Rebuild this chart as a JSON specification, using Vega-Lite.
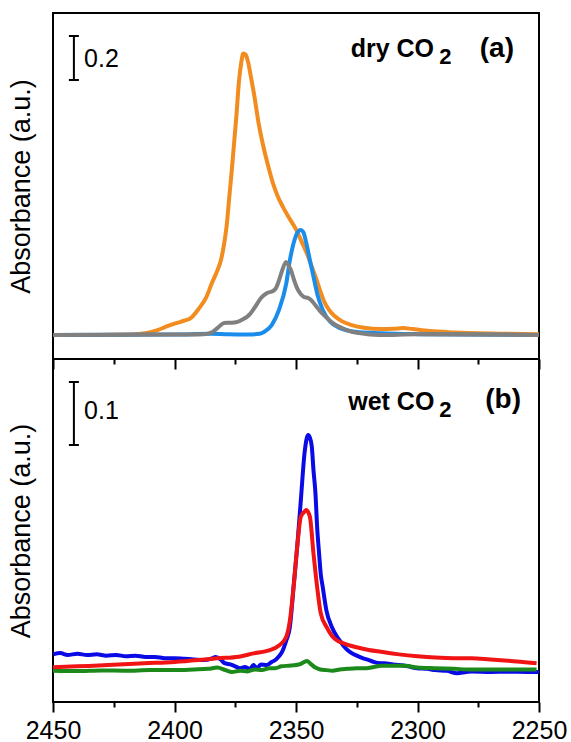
{
  "$schema": "https://vega.github.io/schema/vega-lite/v6.json",
  "padding": {"left": 6, "top": 12, "right": 3, "bottom": 3},
  "background": "white",
  "config": {
    "view": {"stroke": "black", "strokeWidth": 2},
    "font": "Liberation Sans"
  },
  "spacing": 0,
  "bounds": "flush",
  "resolve": {"scale": {"x": "independent", "y": "independent", "color": "independent"}},
  "datasets": {
    "dry": [
      {"s": "dry-1", "wn": 2450, "a": 0}, {"s": "dry-1", "wn": 2430, "a": 0}, {"s": "dry-1", "wn": 2418, "a": 0.002}, {"s": "dry-1", "wn": 2412, "a": 0.008}, {"s": "dry-1", "wn": 2407, "a": 0.022}, {"s": "dry-1", "wn": 2403, "a": 0.04}, {"s": "dry-1", "wn": 2399, "a": 0.055}, {"s": "dry-1", "wn": 2396, "a": 0.065}, {"s": "dry-1", "wn": 2393, "a": 0.08}, {"s": "dry-1", "wn": 2390, "a": 0.12}, {"s": "dry-1", "wn": 2387, "a": 0.17}, {"s": "dry-1", "wn": 2384.6, "a": 0.236}, {"s": "dry-1", "wn": 2382.5, "a": 0.29}, {"s": "dry-1", "wn": 2380.9, "a": 0.34}, {"s": "dry-1", "wn": 2379.5, "a": 0.42}, {"s": "dry-1", "wn": 2378.5, "a": 0.5}, {"s": "dry-1", "wn": 2377.6, "a": 0.61}, {"s": "dry-1", "wn": 2376.5, "a": 0.74}, {"s": "dry-1", "wn": 2375.5, "a": 0.87}, {"s": "dry-1", "wn": 2374.5, "a": 1.0}, {"s": "dry-1", "wn": 2373.5, "a": 1.15}, {"s": "dry-1", "wn": 2372.5, "a": 1.24}, {"s": "dry-1", "wn": 2371.7, "a": 1.28}, {"s": "dry-1", "wn": 2370.8, "a": 1.275}, {"s": "dry-1", "wn": 2369.7, "a": 1.24}, {"s": "dry-1", "wn": 2368.5, "a": 1.17}, {"s": "dry-1", "wn": 2367.2, "a": 1.09}, {"s": "dry-1", "wn": 2365.5, "a": 0.97}, {"s": "dry-1", "wn": 2363.5, "a": 0.86}, {"s": "dry-1", "wn": 2361.5, "a": 0.77}, {"s": "dry-1", "wn": 2359.5, "a": 0.69}, {"s": "dry-1", "wn": 2357.5, "a": 0.63}, {"s": "dry-1", "wn": 2355.5, "a": 0.585}, {"s": "dry-1", "wn": 2353, "a": 0.535}, {"s": "dry-1", "wn": 2350, "a": 0.48}, {"s": "dry-1", "wn": 2347.5, "a": 0.42}, {"s": "dry-1", "wn": 2345.5, "a": 0.37}, {"s": "dry-1", "wn": 2343.5, "a": 0.31}, {"s": "dry-1", "wn": 2341.8, "a": 0.26}, {"s": "dry-1", "wn": 2340, "a": 0.2}, {"s": "dry-1", "wn": 2338.5, "a": 0.155}, {"s": "dry-1", "wn": 2336.5, "a": 0.115}, {"s": "dry-1", "wn": 2334, "a": 0.085}, {"s": "dry-1", "wn": 2331, "a": 0.062}, {"s": "dry-1", "wn": 2327, "a": 0.045}, {"s": "dry-1", "wn": 2322, "a": 0.033}, {"s": "dry-1", "wn": 2315, "a": 0.027}, {"s": "dry-1", "wn": 2310, "a": 0.028}, {"s": "dry-1", "wn": 2306, "a": 0.032}, {"s": "dry-1", "wn": 2302, "a": 0.027}, {"s": "dry-1", "wn": 2295, "a": 0.018}, {"s": "dry-1", "wn": 2285, "a": 0.012}, {"s": "dry-1", "wn": 2270, "a": 0.007}, {"s": "dry-1", "wn": 2250, "a": 0.004},
      {"s": "dry-2", "wn": 2450, "a": 0}, {"s": "dry-2", "wn": 2400, "a": 0.002}, {"s": "dry-2", "wn": 2385, "a": 0.006}, {"s": "dry-2", "wn": 2378, "a": 0.003}, {"s": "dry-2", "wn": 2370, "a": 0.002}, {"s": "dry-2", "wn": 2365, "a": 0.006}, {"s": "dry-2", "wn": 2363, "a": 0.015}, {"s": "dry-2", "wn": 2360, "a": 0.045}, {"s": "dry-2", "wn": 2357, "a": 0.114}, {"s": "dry-2", "wn": 2354, "a": 0.235}, {"s": "dry-2", "wn": 2352.5, "a": 0.341}, {"s": "dry-2", "wn": 2351, "a": 0.417}, {"s": "dry-2", "wn": 2349.1, "a": 0.47}, {"s": "dry-2", "wn": 2348.1, "a": 0.477}, {"s": "dry-2", "wn": 2347, "a": 0.468}, {"s": "dry-2", "wn": 2345.8, "a": 0.42}, {"s": "dry-2", "wn": 2344.3, "a": 0.341}, {"s": "dry-2", "wn": 2342.8, "a": 0.265}, {"s": "dry-2", "wn": 2341.3, "a": 0.189}, {"s": "dry-2", "wn": 2339, "a": 0.114}, {"s": "dry-2", "wn": 2336, "a": 0.061}, {"s": "dry-2", "wn": 2331.6, "a": 0.03}, {"s": "dry-2", "wn": 2325.6, "a": 0.015}, {"s": "dry-2", "wn": 2315, "a": 0.008}, {"s": "dry-2", "wn": 2300, "a": 0.004}, {"s": "dry-2", "wn": 2250, "a": 0},
      {"s": "dry-3", "wn": 2450, "a": 0}, {"s": "dry-3", "wn": 2400, "a": 0.002}, {"s": "dry-3", "wn": 2388, "a": 0.004}, {"s": "dry-3", "wn": 2384.6, "a": 0.012}, {"s": "dry-3", "wn": 2382, "a": 0.035}, {"s": "dry-3", "wn": 2379.6, "a": 0.055}, {"s": "dry-3", "wn": 2377, "a": 0.056}, {"s": "dry-3", "wn": 2374.7, "a": 0.058}, {"s": "dry-3", "wn": 2372, "a": 0.07}, {"s": "dry-3", "wn": 2369.3, "a": 0.091}, {"s": "dry-3", "wn": 2367, "a": 0.125}, {"s": "dry-3", "wn": 2364.4, "a": 0.168}, {"s": "dry-3", "wn": 2361.9, "a": 0.191}, {"s": "dry-3", "wn": 2359.5, "a": 0.2}, {"s": "dry-3", "wn": 2358.2, "a": 0.214}, {"s": "dry-3", "wn": 2356.8, "a": 0.255}, {"s": "dry-3", "wn": 2355.8, "a": 0.29}, {"s": "dry-3", "wn": 2354.1, "a": 0.332}, {"s": "dry-3", "wn": 2353, "a": 0.315}, {"s": "dry-3", "wn": 2352.1, "a": 0.295}, {"s": "dry-3", "wn": 2350.8, "a": 0.25}, {"s": "dry-3", "wn": 2349.6, "a": 0.214}, {"s": "dry-3", "wn": 2348, "a": 0.185}, {"s": "dry-3", "wn": 2346.7, "a": 0.173}, {"s": "dry-3", "wn": 2345, "a": 0.168}, {"s": "dry-3", "wn": 2343.8, "a": 0.159}, {"s": "dry-3", "wn": 2342, "a": 0.135}, {"s": "dry-3", "wn": 2340.5, "a": 0.114}, {"s": "dry-3", "wn": 2338.5, "a": 0.09}, {"s": "dry-3", "wn": 2336.4, "a": 0.068}, {"s": "dry-3", "wn": 2334, "a": 0.048}, {"s": "dry-3", "wn": 2331.1, "a": 0.032}, {"s": "dry-3", "wn": 2328, "a": 0.018}, {"s": "dry-3", "wn": 2324.1, "a": 0.009}, {"s": "dry-3", "wn": 2315.8, "a": 0.0}, {"s": "dry-3", "wn": 2300, "a": 0.003}, {"s": "dry-3", "wn": 2250, "a": 0}
    ],
    "wet": [
      {"s": "wet-1", "wn": 2450, "a": 0.028}, {"s": "wet-1", "wn": 2447, "a": 0.03}, {"s": "wet-1", "wn": 2444, "a": 0.027}, {"s": "wet-1", "wn": 2440, "a": 0.029}, {"s": "wet-1", "wn": 2436, "a": 0.027}, {"s": "wet-1", "wn": 2432, "a": 0.028}, {"s": "wet-1", "wn": 2428, "a": 0.026}, {"s": "wet-1", "wn": 2424, "a": 0.027}, {"s": "wet-1", "wn": 2420, "a": 0.025}, {"s": "wet-1", "wn": 2416, "a": 0.026}, {"s": "wet-1", "wn": 2412, "a": 0.024}, {"s": "wet-1", "wn": 2408, "a": 0.024}, {"s": "wet-1", "wn": 2404, "a": 0.022}, {"s": "wet-1", "wn": 2400, "a": 0.022}, {"s": "wet-1", "wn": 2396, "a": 0.021}, {"s": "wet-1", "wn": 2392, "a": 0.02}, {"s": "wet-1", "wn": 2388, "a": 0.019}, {"s": "wet-1", "wn": 2385, "a": 0.021}, {"s": "wet-1", "wn": 2383, "a": 0.024}, {"s": "wet-1", "wn": 2381, "a": 0.02}, {"s": "wet-1", "wn": 2379.4, "a": 0.014}, {"s": "wet-1", "wn": 2377, "a": 0.012}, {"s": "wet-1", "wn": 2375, "a": 0.009}, {"s": "wet-1", "wn": 2373, "a": 0.006}, {"s": "wet-1", "wn": 2371, "a": 0.008}, {"s": "wet-1", "wn": 2369, "a": 0.005}, {"s": "wet-1", "wn": 2367.5, "a": 0.011}, {"s": "wet-1", "wn": 2366, "a": 0.006}, {"s": "wet-1", "wn": 2364.5, "a": 0.012}, {"s": "wet-1", "wn": 2362, "a": 0.011}, {"s": "wet-1", "wn": 2360, "a": 0.016}, {"s": "wet-1", "wn": 2358.5, "a": 0.019}, {"s": "wet-1", "wn": 2357, "a": 0.025}, {"s": "wet-1", "wn": 2356, "a": 0.03}, {"s": "wet-1", "wn": 2354, "a": 0.05}, {"s": "wet-1", "wn": 2352.5, "a": 0.072}, {"s": "wet-1", "wn": 2351, "a": 0.135}, {"s": "wet-1", "wn": 2349.5, "a": 0.199}, {"s": "wet-1", "wn": 2348, "a": 0.273}, {"s": "wet-1", "wn": 2346.5, "a": 0.347}, {"s": "wet-1", "wn": 2345.5, "a": 0.372}, {"s": "wet-1", "wn": 2345, "a": 0.376}, {"s": "wet-1", "wn": 2344.3, "a": 0.372}, {"s": "wet-1", "wn": 2343.5, "a": 0.358}, {"s": "wet-1", "wn": 2342.8, "a": 0.32}, {"s": "wet-1", "wn": 2342, "a": 0.284}, {"s": "wet-1", "wn": 2341.3, "a": 0.23}, {"s": "wet-1", "wn": 2340.5, "a": 0.188}, {"s": "wet-1", "wn": 2339.8, "a": 0.155}, {"s": "wet-1", "wn": 2339, "a": 0.135}, {"s": "wet-1", "wn": 2337.5, "a": 0.098}, {"s": "wet-1", "wn": 2335.3, "a": 0.072}, {"s": "wet-1", "wn": 2333.1, "a": 0.056}, {"s": "wet-1", "wn": 2331.6, "a": 0.048}, {"s": "wet-1", "wn": 2330.1, "a": 0.04}, {"s": "wet-1", "wn": 2328.6, "a": 0.034}, {"s": "wet-1", "wn": 2327.1, "a": 0.03}, {"s": "wet-1", "wn": 2325, "a": 0.026}, {"s": "wet-1", "wn": 2322.6, "a": 0.022}, {"s": "wet-1", "wn": 2320, "a": 0.019}, {"s": "wet-1", "wn": 2318.1, "a": 0.016}, {"s": "wet-1", "wn": 2315, "a": 0.014}, {"s": "wet-1", "wn": 2313.6, "a": 0.014}, {"s": "wet-1", "wn": 2310, "a": 0.012}, {"s": "wet-1", "wn": 2307.6, "a": 0.011}, {"s": "wet-1", "wn": 2304, "a": 0.009}, {"s": "wet-1", "wn": 2300.1, "a": 0.006}, {"s": "wet-1", "wn": 2296, "a": 0.005}, {"s": "wet-1", "wn": 2292.7, "a": 0.003}, {"s": "wet-1", "wn": 2288, "a": 0.002}, {"s": "wet-1", "wn": 2283.7, "a": -0.002}, {"s": "wet-1", "wn": 2280, "a": 0.0}, {"s": "wet-1", "wn": 2277.7, "a": 0.001}, {"s": "wet-1", "wn": 2270, "a": 0.0}, {"s": "wet-1", "wn": 2262.7, "a": 0.0005}, {"s": "wet-1", "wn": 2255, "a": 0.0}, {"s": "wet-1", "wn": 2250, "a": 0.0},
      {"s": "wet-3", "wn": 2450, "a": 0.002}, {"s": "wet-3", "wn": 2440, "a": 0.0015}, {"s": "wet-3", "wn": 2430, "a": 0.0025}, {"s": "wet-3", "wn": 2420, "a": 0.002}, {"s": "wet-3", "wn": 2410, "a": 0.003}, {"s": "wet-3", "wn": 2400, "a": 0.003}, {"s": "wet-3", "wn": 2392, "a": 0.004}, {"s": "wet-3", "wn": 2386, "a": 0.005}, {"s": "wet-3", "wn": 2382.4, "a": 0.007}, {"s": "wet-3", "wn": 2379, "a": 0.003}, {"s": "wet-3", "wn": 2376.4, "a": 0.0}, {"s": "wet-3", "wn": 2373, "a": 0.002}, {"s": "wet-3", "wn": 2370, "a": 0.001}, {"s": "wet-3", "wn": 2367, "a": 0.004}, {"s": "wet-3", "wn": 2364, "a": 0.003}, {"s": "wet-3", "wn": 2361, "a": 0.006}, {"s": "wet-3", "wn": 2358.5, "a": 0.006}, {"s": "wet-3", "wn": 2356, "a": 0.009}, {"s": "wet-3", "wn": 2353, "a": 0.01}, {"s": "wet-3", "wn": 2350, "a": 0.011}, {"s": "wet-3", "wn": 2348, "a": 0.013}, {"s": "wet-3", "wn": 2346.5, "a": 0.016}, {"s": "wet-3", "wn": 2345.5, "a": 0.0175}, {"s": "wet-3", "wn": 2344, "a": 0.013}, {"s": "wet-3", "wn": 2342, "a": 0.007}, {"s": "wet-3", "wn": 2340, "a": 0.004}, {"s": "wet-3", "wn": 2337.5, "a": 0.003}, {"s": "wet-3", "wn": 2335, "a": 0.002}, {"s": "wet-3", "wn": 2332, "a": 0.004}, {"s": "wet-3", "wn": 2329, "a": 0.005}, {"s": "wet-3", "wn": 2325, "a": 0.006}, {"s": "wet-3", "wn": 2321, "a": 0.006}, {"s": "wet-3", "wn": 2318, "a": 0.008}, {"s": "wet-3", "wn": 2315, "a": 0.01}, {"s": "wet-3", "wn": 2310, "a": 0.01}, {"s": "wet-3", "wn": 2305, "a": 0.01}, {"s": "wet-3", "wn": 2300, "a": 0.007}, {"s": "wet-3", "wn": 2293, "a": 0.006}, {"s": "wet-3", "wn": 2285, "a": 0.005}, {"s": "wet-3", "wn": 2278, "a": 0.004}, {"s": "wet-3", "wn": 2265, "a": 0.004}, {"s": "wet-3", "wn": 2251, "a": 0.004},
      {"s": "wet-2", "wn": 2450, "a": 0.0074}, {"s": "wet-2", "wn": 2440, "a": 0.009}, {"s": "wet-2", "wn": 2427.3, "a": 0.011}, {"s": "wet-2", "wn": 2412.4, "a": 0.0138}, {"s": "wet-2", "wn": 2400, "a": 0.016}, {"s": "wet-2", "wn": 2390, "a": 0.019}, {"s": "wet-2", "wn": 2382.4, "a": 0.0217}, {"s": "wet-2", "wn": 2373.5, "a": 0.0243}, {"s": "wet-2", "wn": 2367.5, "a": 0.0296}, {"s": "wet-2", "wn": 2361.5, "a": 0.034}, {"s": "wet-2", "wn": 2357, "a": 0.042}, {"s": "wet-2", "wn": 2354, "a": 0.056}, {"s": "wet-2", "wn": 2352.5, "a": 0.082}, {"s": "wet-2", "wn": 2351, "a": 0.135}, {"s": "wet-2", "wn": 2349.5, "a": 0.199}, {"s": "wet-2", "wn": 2348, "a": 0.2466}, {"s": "wet-2", "wn": 2346.5, "a": 0.2545}, {"s": "wet-2", "wn": 2345.8, "a": 0.257}, {"s": "wet-2", "wn": 2344.3, "a": 0.2466}, {"s": "wet-2", "wn": 2342.8, "a": 0.188}, {"s": "wet-2", "wn": 2341.3, "a": 0.135}, {"s": "wet-2", "wn": 2339.8, "a": 0.093}, {"s": "wet-2", "wn": 2337.5, "a": 0.072}, {"s": "wet-2", "wn": 2335.3, "a": 0.058}, {"s": "wet-2", "wn": 2333.1, "a": 0.05}, {"s": "wet-2", "wn": 2330.1, "a": 0.045}, {"s": "wet-2", "wn": 2322.6, "a": 0.037}, {"s": "wet-2", "wn": 2315, "a": 0.032}, {"s": "wet-2", "wn": 2307.6, "a": 0.028}, {"s": "wet-2", "wn": 2300, "a": 0.025}, {"s": "wet-2", "wn": 2292.7, "a": 0.023}, {"s": "wet-2", "wn": 2285, "a": 0.022}, {"s": "wet-2", "wn": 2277.7, "a": 0.022}, {"s": "wet-2", "wn": 2270, "a": 0.02}, {"s": "wet-2", "wn": 2262.7, "a": 0.018}, {"s": "wet-2", "wn": 2251, "a": 0.014}
    ]
  },
  "vconcat": [
    {
      "width": 486,
      "height": 346,
      "encoding": {
        "x": {"field": "wn", "type": "quantitative", "scale": {"domain": [2250, 2450], "reverse": true, "nice": false, "zero": false},
          "axis": {"title": null, "labels": false, "domain": false, "grid": false, "values": [2450, 2425, 2400, 2375, 2350, 2325, 2300, 2275, 2250], "tickColor": "black", "tickWidth": 2, "tickSize": {"condition": {"test": "datum.value % 50 === 0", "value": 10}, "value": 5}}},
        "y": {"field": "a", "type": "quantitative", "scale": {"domain": [-0.109, 1.4636], "nice": false, "zero": false},
          "axis": {"title": "Absorbance (a.u.)", "labels": false, "ticks": false, "domain": false, "grid": false, "titleFont": "Liberation Sans", "titleFontSize": 27, "titleFontWeight": "normal", "titleColor": "black", "titlePadding": 18}}
      },
      "layer": [
        {
          "data": {"name": "dry"},
          "mark": {"type": "line", "strokeWidth": 4, "interpolate": "monotone", "clip": true},
          "encoding": {
            "color": {"field": "s", "type": "nominal", "scale": {"domain": ["dry-1", "dry-2", "dry-3"], "range": ["#F28C1E", "#1A8CEB", "#808080"]}, "legend": null},
            "order": {"field": "wn", "type": "quantitative", "sort": "descending"}
          }
        },
        {
          "data": {"values": [{"wn": 2441.4, "a": 1.159, "a2": 1.359}]},
          "mark": {"type": "rule", "color": "black", "strokeWidth": 2},
          "encoding": {"y2": {"field": "a2"}}
        },
        {
          "data": {"values": [{"wn": 2441.4, "a": 1.159}, {"wn": 2441.4, "a": 1.359}]},
          "mark": {"type": "tick", "orient": "horizontal", "color": "black", "size": 10, "thickness": 2, "opacity": 1}
        },
        {
          "data": {"values": [{"wn": 2437.2, "a": 1.2545, "t": "0.2"}]},
          "mark": {"type": "text", "align": "left", "baseline": "middle", "font": "Liberation Sans", "fontSize": 25, "color": "black"},
          "encoding": {"text": {"field": "t"}}
        },
        {
          "data": {"values": [{"wn": 2327.5, "a": 1.2636, "t": "dry CO"}]},
          "mark": {"type": "text", "align": "left", "baseline": "alphabetic", "font": "Liberation Sans", "fontWeight": "bold", "fontSize": 25, "color": "black"},
          "encoding": {"text": {"field": "t"}}
        },
        {
          "data": {"values": [{"wn": 2291.0, "a": 1.2318, "t": "2"}]},
          "mark": {"type": "text", "align": "left", "baseline": "alphabetic", "font": "Liberation Sans", "fontWeight": "bold", "fontSize": 22, "color": "black"},
          "encoding": {"text": {"field": "t"}}
        },
        {
          "data": {"values": [{"wn": 2260.3, "a": 1.2636, "t": "(a)"}]},
          "mark": {"type": "text", "align": "right", "baseline": "alphabetic", "font": "Liberation Sans", "fontWeight": "bold", "fontSize": 28, "color": "black"},
          "encoding": {"text": {"field": "t"}}
        }
      ]
    },
    {
      "width": 486,
      "height": 343,
      "encoding": {
        "x": {"field": "wn", "type": "quantitative", "scale": {"domain": [2250, 2450], "reverse": true, "nice": false, "zero": false},
          "axis": {"title": null, "domain": false, "grid": false, "values": [2450, 2425, 2400, 2375, 2350, 2325, 2300, 2275, 2250], "format": "d", "labelExpr": "datum.value % 50 === 0 ? datum.label : ''", "labelFont": "Liberation Sans", "labelFontSize": 25, "labelColor": "black", "labelPadding": 6, "labelFlush": false, "labelOverlap": false, "tickColor": "black", "tickWidth": 2, "tickSize": {"condition": {"test": "datum.value % 50 === 0", "value": 10}, "value": 5}}},
        "y": {"field": "a", "type": "quantitative", "scale": {"domain": [-0.0476, 0.4968], "nice": false, "zero": false},
          "axis": {"title": "Absorbance (a.u.)", "labels": false, "ticks": false, "domain": false, "grid": false, "titleFont": "Liberation Sans", "titleFontSize": 27, "titleFontWeight": "normal", "titleColor": "black", "titlePadding": 18}}
      },
      "layer": [
        {
          "data": {"name": "wet"},
          "mark": {"type": "line", "strokeWidth": 4, "interpolate": "monotone", "clip": true},
          "encoding": {
            "color": {"field": "s", "type": "nominal", "scale": {"domain": ["wet-1", "wet-3", "wet-2"], "range": ["#0A0AE6", "#1B8A1B", "#F01414"]}, "legend": null},
            "order": {"field": "wn", "type": "quantitative", "sort": "descending"}
          }
        },
        {
          "data": {"values": [{"wn": 2441.4, "a": 0.3603, "a2": 0.4603}]},
          "mark": {"type": "rule", "color": "black", "strokeWidth": 2},
          "encoding": {"y2": {"field": "a2"}}
        },
        {
          "data": {"values": [{"wn": 2441.4, "a": 0.3603}, {"wn": 2441.4, "a": 0.4603}]},
          "mark": {"type": "tick", "orient": "horizontal", "color": "black", "size": 10, "thickness": 2, "opacity": 1}
        },
        {
          "data": {"values": [{"wn": 2437.2, "a": 0.414, "t": "0.1"}]},
          "mark": {"type": "text", "align": "left", "baseline": "middle", "font": "Liberation Sans", "fontSize": 25, "color": "black"},
          "encoding": {"text": {"field": "t"}}
        },
        {
          "data": {"values": [{"wn": 2328.5, "a": 0.4159, "t": "wet CO"}]},
          "mark": {"type": "text", "align": "left", "baseline": "alphabetic", "font": "Liberation Sans", "fontWeight": "bold", "fontSize": 25, "color": "black"},
          "encoding": {"text": {"field": "t"}}
        },
        {
          "data": {"values": [{"wn": 2291.0, "a": 0.4048, "t": "2"}]},
          "mark": {"type": "text", "align": "left", "baseline": "alphabetic", "font": "Liberation Sans", "fontWeight": "bold", "fontSize": 22, "color": "black"},
          "encoding": {"text": {"field": "t"}}
        },
        {
          "data": {"values": [{"wn": 2257.4, "a": 0.419, "t": "(b)"}]},
          "mark": {"type": "text", "align": "right", "baseline": "alphabetic", "font": "Liberation Sans", "fontWeight": "bold", "fontSize": 28, "color": "black"},
          "encoding": {"text": {"field": "t"}}
        }
      ]
    }
  ]
}
